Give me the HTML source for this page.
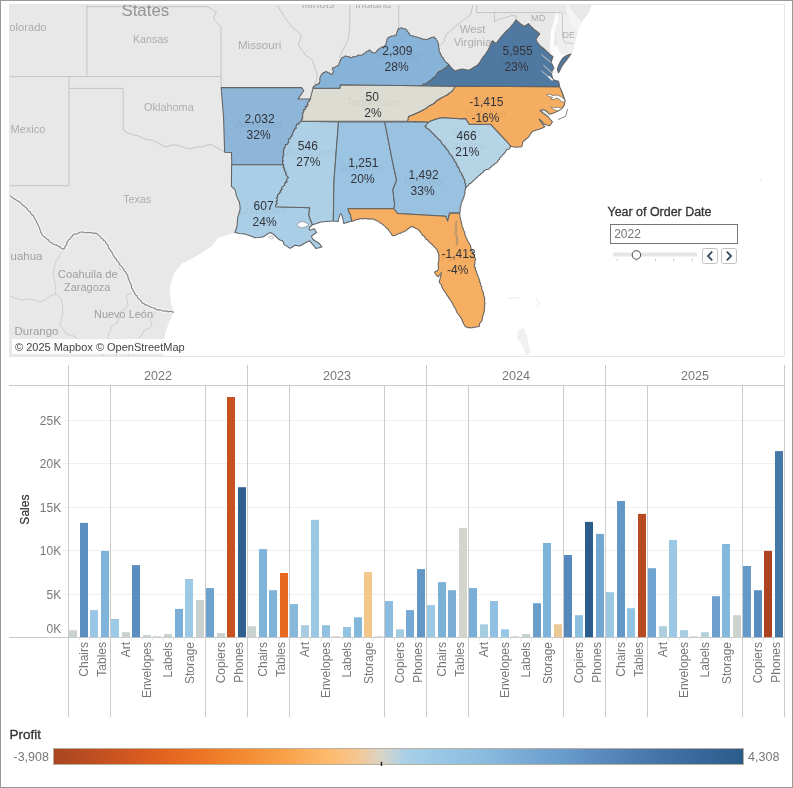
<!DOCTYPE html>
<html lang="en"><head><meta charset="utf-8"><title>Profit and Sales Dashboard</title>
<style>
html,body{margin:0;padding:0;background:#fff;}
body{width:793px;height:788px;position:relative;overflow:hidden;font-family:"Liberation Sans", sans-serif;}
#frame{position:absolute;left:0;top:0;width:793px;height:788px;box-sizing:border-box;border:1px solid #999;pointer-events:none;}
svg{position:absolute;left:0;top:0;}
svg text{font-family:"Liberation Sans", sans-serif;}
.bl{fill:#adadad;font-size:11px;text-anchor:middle;}
.dl{fill:#33333b;font-size:12px;text-anchor:middle;}
.ax{fill:#777;font-size:12px;}
.t{position:absolute;white-space:nowrap;}
</style></head><body>
<svg width="793" height="788" viewBox="0 0 793 788">
<defs><clipPath id="mapclip"><rect x="10" y="5" width="774" height="351"/></clipPath>
<filter id="soft" x="-20%" y="-20%" width="140%" height="140%"><feGaussianBlur stdDeviation="0.7"/></filter>
<linearGradient id="lg" x1="0" x2="1" y1="0" y2="0">
<stop offset="0" stop-color="#a84521"/>
<stop offset="0.054" stop-color="#bd4e21"/>
<stop offset="0.112" stop-color="#d35820"/>
<stop offset="0.162" stop-color="#e3641f"/>
<stop offset="0.213" stop-color="#ec7425"/>
<stop offset="0.264" stop-color="#f2872f"/>
<stop offset="0.329" stop-color="#f89e45"/>
<stop offset="0.4" stop-color="#fdbb6d"/>
<stop offset="0.438" stop-color="#f5c58e"/>
<stop offset="0.4757" stop-color="#d9d5c9"/>
<stop offset="0.51" stop-color="#a9d0e6"/>
<stop offset="0.546" stop-color="#9ccae6"/>
<stop offset="0.619" stop-color="#8bbce0"/>
<stop offset="0.69" stop-color="#75a8d3"/>
<stop offset="0.738" stop-color="#689ccb"/>
<stop offset="0.807" stop-color="#5587b9"/>
<stop offset="0.88" stop-color="#4274a6"/>
<stop offset="0.952" stop-color="#336596"/>
<stop offset="1" stop-color="#2b5c8a"/>
</linearGradient></defs>
<g clip-path="url(#mapclip)">
<rect x="9" y="4" width="776" height="353" fill="#fff"/>
<polygon points="9.0,4.0 592.0,4.0 589.0,12.0 585.0,18.0 581.5,22.5 579.3,27.0 577.2,33.0 576.0,38.0 575.1,42.9 572.6,51.7 570.9,53.9 566.2,55.8 560.0,52.0 556.0,45.0 548.0,60.0 548.0,80.0 555.0,90.0 558.0,100.0 545.0,118.0 530.0,130.0 515.0,142.0 505.0,145.0 495.0,158.0 480.0,170.0 468.0,182.0 462.0,192.0 458.0,205.0 456.0,215.0 460.0,235.0 470.0,260.0 480.0,295.0 478.0,320.0 468.0,322.0 455.0,300.0 445.0,280.0 440.0,262.0 438.0,250.0 425.0,233.0 410.0,225.0 392.0,230.0 380.0,220.0 360.0,217.0 352.0,216.0 345.0,215.0 336.0,215.0 320.0,218.0 311.0,215.0 306.0,232.0 290.0,240.0 272.0,230.0 255.0,231.0 240.0,230.0 238.0,229.0 235.0,232.8 229.0,234.5 217.9,238.1 211.9,245.7 203.0,252.0 193.7,257.8 181.6,263.8 174.0,272.9 169.5,288.0 171.0,303.2 174.0,312.3 169.5,321.3 165.0,333.4 163.4,351.6 163.4,357.0 9.0,357.0" fill="#e8e8e8"/>
<polygon points="565.5,4 568.5,4 571.5,10 576,16 581.5,22.5 579.3,27 577.2,33 573,27 569,19 566.5,11" fill="#f4f4f4" filter="url(#soft)"/>
<circle cx="761.3" cy="180" r="0.8" fill="#dcdcdc"/>
<polygon points="558,12.6 563,12.6 568,18 573,27 576.5,34 575,43 571,53.5 566,55.8 560,53.5 557,46 555.5,30 557,20" fill="#efefef" filter="url(#soft)"/>
<polygon points="555.5,12.0 557.5,12.0 558.2,19.0 555.0,30.0 554.0,44.0 557.0,52.0 560.0,54.0 566.0,55.5 560.5,61.5 557.7,68.1 558.6,72.8 561.0,78.0 562.0,86.6 559.6,86.6 558.6,81.3 552.9,79.4 551.1,72.8 553.9,68.1 551.1,62.4 553.0,56.7 550.5,50.0 550.0,44.0 551.0,30.0 554.5,20.0" fill="#fcfcfc" filter="url(#soft)"/>
<polygon points="518,330 524,328 528,340 530,352 527,356 522,345 517,338" fill="#f0f0f0"/>
<path d="M508,298.5 L520,297.5 M536,298 L539,303 L537,308" stroke="#ebebeb" stroke-width="1" fill="none"/>
<polyline points="9.0,76.6 221.0,76.6" fill="none" stroke="#b9b9b9" stroke-width="0.75"/>
<polyline points="86.9,4.0 86.9,76.6" fill="none" stroke="#b9b9b9" stroke-width="0.75"/>
<polyline points="86.9,6.7 207.3,6.7 216.4,12.1 213.4,18.2 221.0,27.2 221.2,88.0" fill="none" stroke="#b9b9b9" stroke-width="0.75"/>
<polyline points="69.0,76.6 69.0,185.7 9.0,185.7" fill="none" stroke="#b9b9b9" stroke-width="0.75"/>
<polyline points="69.0,88.4 123.2,88.4 123.2,130.1 128.0,133.0 133.2,134.7 139.0,136.0 145.3,139.2 151.0,140.0 157.4,142.3 162.0,145.5 166.5,146.8 172.0,145.0 178.6,145.3 185.0,148.0 190.7,148.9 197.0,147.0 202.8,146.8 207.0,145.0 211.9,144.7 218.0,148.5 224.0,151.3" fill="none" stroke="#b9b9b9" stroke-width="0.75"/>
<polyline points="313.2,87.2 316.0,82.0 317.3,75.1 315.0,68.0 312.2,60.0 306.0,55.5 298.4,45.4 301.4,34.8 292.3,27.2 283.2,15.1 277.2,4.5" fill="none" stroke="#b9b9b9" stroke-width="0.75"/>
<polyline points="349.8,4.5 349.8,27.2 348.3,39.3 342.3,51.5 339.2,57.5" fill="none" stroke="#b9b9b9" stroke-width="0.75"/>
<polyline points="398.8,4.5 398.8,28.8" fill="none" stroke="#b9b9b9" stroke-width="0.75"/>
<polyline points="473.0,5.0 470.4,15.1 461.6,21.4 452.8,29.0 446.5,34.0 444.0,41.6 440.5,45.4" fill="none" stroke="#b9b9b9" stroke-width="0.75"/>
<polyline points="476.7,4.0 476.7,12.6 561.2,12.6" fill="none" stroke="#b9b9b9" stroke-width="0.75"/>
<polyline points="494.4,12.6 494.4,21.4 500.0,19.0 506.0,17.5 512.0,15.5 516.0,16.0 516.1,19.9" fill="none" stroke="#b9b9b9" stroke-width="0.75"/>
<polyline points="562.5,12.6 562.5,37.8 565.0,42.9 573.8,43.4" fill="none" stroke="#b9b9b9" stroke-width="0.75"/>
<polyline points="63.6,249.3 63.1,251.0 62.0,252.4 60.8,253.7 59.6,254.9 59.1,256.7 58.2,258.1 57.2,259.5 56.0,260.8 55.3,262.5 55.5,264.3 54.5,265.9 54.1,267.7 54.2,269.5 53.4,271.2 53.0,272.9 53.3,274.5 53.7,276.1 53.4,277.8 54.5,279.2 54.9,280.7 54.3,282.5 55.0,284.0 55.3,285.7 55.6,287.3 55.7,289.0 55.8,290.7 55.4,292.5 56.0,294.1 57.4,295.1 58.6,296.3 59.5,297.7 60.8,298.9 62.0,300.0 61.7,301.8 62.0,303.5 62.6,305.1 62.9,306.8 62.4,308.6 62.4,310.3 63.0,312.0 63.1,313.7 62.0,315.2 61.5,316.8 61.4,318.5 61.4,320.2 60.5,321.7 60.1,323.3 60.0,325.0 61.1,326.1 61.6,327.6 62.8,328.7 63.8,329.9 64.4,331.3 65.3,332.6 66.0,334.0 67.5,334.2 69.0,334.8 70.4,335.3 71.9,335.8 73.4,336.1 75.0,336.0 75.6,337.7 76.8,339.0 78.2,340.1 79.3,341.4 80.0,343.0 81.7,342.7 83.4,342.2 85.2,341.9 86.8,340.9 88.5,340.6 90.4,340.8 92.0,340.0 93.1,341.2 94.2,342.4 95.7,343.1 96.6,344.5 97.4,346.0 98.8,347.0 100.0,348.0 100.2,349.7 101.6,350.9 102.0,352.5 102.4,354.1 103.4,355.5 104.0,357.0" fill="none" stroke="#c2c2c2" stroke-width="0.7"/>
<polyline points="9.0,296.0 10.7,296.1 12.3,296.8 13.8,297.6 15.2,298.5 17.0,298.5 18.6,299.1 20.0,300.0 21.6,299.6 23.4,299.9 25.0,299.1 26.7,299.6 28.4,299.3 30.0,299.0 31.8,299.1 33.4,299.9 35.2,300.2 36.9,300.6 38.5,301.6 40.4,301.2 42.0,302.0 43.0,300.6 44.9,300.4 45.9,298.9 47.1,297.8 48.6,296.9 50.0,296.0 51.5,295.4 53.1,295.5 54.4,294.3 56.0,294.1" fill="none" stroke="#c2c2c2" stroke-width="0.7"/>
<polyline points="133.2,291.1 132.0,292.5 130.5,293.4 128.9,294.1 127.3,294.9 126.0,296.0 126.7,297.6 127.0,299.3 127.3,300.9 127.1,302.7 128.0,304.3 128.0,306.0 126.5,306.8 125.2,307.9 124.2,309.3 122.7,310.0 121.4,311.0 120.0,312.0 119.8,313.7 118.8,315.2 119.4,317.1 119.1,318.8 117.9,320.2 118.0,322.0 116.8,322.9 115.8,323.9 114.5,324.5 113.3,325.3 112.0,326.0 110.9,327.5 110.9,329.4 110.3,331.1 109.2,332.6 108.6,334.3 108.0,336.0 107.9,337.6 108.3,339.1 109.1,340.5 109.6,341.9 109.3,343.6 110.0,345.0 111.4,346.1 113.4,345.8 114.7,347.0 116.3,347.7 118.0,348.0 117.5,349.5 117.6,351.1 116.7,352.4 116.4,353.9 116.6,355.6 116.0,357.0" fill="none" stroke="#c2c2c2" stroke-width="0.7"/>
<polyline points="115.0,257.8 116.5,258.2 117.6,259.2 118.7,260.2 119.7,261.3 121.0,262.0 120.8,263.6 120.4,265.1 119.8,266.6 119.0,268.0 120.1,269.2 121.7,269.7 122.6,271.2 124.0,272.0 124.9,272.9 126.3,273.3 127.1,274.4" fill="none" stroke="#c2c2c2" stroke-width="0.7"/>
<polyline points="157.4,309.8 156.7,311.3 155.6,312.4 154.3,313.4 153.0,314.4 152.4,315.9 151.3,317.1 150.0,318.0 150.7,319.5 150.6,321.3 151.5,322.7 151.4,324.5 152.0,326.0 150.5,326.7 149.4,327.9 147.8,328.4 146.4,329.2 145.0,330.0 144.1,331.5 142.6,332.6 142.3,334.5 141.4,336.0 139.6,336.9 139.1,338.6 138.0,340.0 136.8,341.1 135.4,341.8 134.1,342.6 132.4,342.9 131.5,344.4 130.0,345.0 130.0,346.8 129.3,348.4 129.1,350.1 128.4,351.8 128.2,353.5 128.4,355.3 128.0,357.0" fill="none" stroke="#c2c2c2" stroke-width="0.7"/>
<polyline points="10.0,195.7 11.3,196.5 12.5,197.4 13.5,198.6 15.0,199.1 16.2,199.9 17.4,200.8 18.9,201.3 19.9,202.5 21.2,203.3 22.2,204.5 23.2,205.7 24.8,206.3 25.7,207.6 27.0,208.5 27.6,210.1 28.8,211.1 30.3,211.8 30.8,213.5 31.9,214.6 33.3,215.4 33.8,216.9 34.5,218.3 35.6,219.5 36.3,220.8 36.5,222.4 37.6,223.7 38.1,225.1 38.7,226.6 39.6,227.9 39.8,229.5 40.5,230.8 40.8,232.4 41.7,233.7 42.4,235.1 43.5,236.2 44.8,237.1 45.9,238.2 47.2,239.0 48.5,239.9 49.3,241.4 50.5,242.4 52.0,243.0 53.1,244.0 54.5,244.6 56.0,244.9 57.3,245.6 58.5,246.3 59.9,246.8 60.9,248.1 62.4,248.5 63.6,249.3 64.6,248.1 65.0,246.5 66.2,245.4 66.8,243.9 66.8,242.2 68.0,241.0 68.7,239.6 70.2,238.9 70.7,237.4 72.1,236.6 72.6,235.1 73.9,234.6 75.1,233.8 76.5,233.9 77.9,233.6 79.0,232.7 80.3,232.1 81.7,232.0 83.2,232.0 84.7,232.8 86.2,232.7 87.8,232.3 89.3,232.6 90.9,232.6 92.4,232.7 93.8,233.6 95.4,233.1 96.9,233.6 98.0,234.8 99.2,235.8 100.5,236.8 101.2,238.3 102.8,239.0 103.5,240.4 105.0,241.2 105.9,242.6 106.7,243.8 107.7,245.0 108.4,246.3 108.5,247.9 109.4,249.1 110.6,250.1 110.9,251.7 112.2,252.6 112.8,253.9 113.2,255.4 114.1,256.6 115.0,257.8 116.2,258.8 116.5,260.6 118.0,261.5 118.9,262.8 119.4,264.4 120.7,265.4 121.7,266.6 122.8,267.8 123.7,269.1 124.2,270.6 125.5,271.7 126.1,273.2 127.1,274.4 127.7,275.8 128.2,277.2 128.2,278.7 129.2,280.0 129.6,281.4 129.8,282.9 131.0,284.0 131.5,285.4 131.3,287.1 131.9,288.4 132.9,289.6 133.2,291.1 134.4,292.1 134.8,293.7 135.6,295.0 137.1,295.8 137.4,297.4 138.3,298.6 139.5,299.6 140.5,300.7 141.7,301.8 142.3,303.2 143.9,303.4 144.9,304.8 146.5,304.8 147.7,305.8 149.3,306.0 150.4,307.1 151.9,307.5 153.4,307.8 154.8,308.3 155.9,309.4 157.4,309.8 159.0,309.6 160.5,310.0 161.9,310.5 163.4,311.1 164.9,311.1 166.5,310.9 167.9,311.8 169.5,311.3 171.1,311.4 172.5,311.8 174.0,312.3" fill="none" stroke="#f6f6f6" stroke-width="3.6" stroke-linejoin="round"/>
<polyline points="10.0,195.7 11.3,196.5 12.5,197.4 13.5,198.6 15.0,199.1 16.2,199.9 17.4,200.8 18.9,201.3 19.9,202.5 21.2,203.3 22.2,204.5 23.2,205.7 24.8,206.3 25.7,207.6 27.0,208.5 27.6,210.1 28.8,211.1 30.3,211.8 30.8,213.5 31.9,214.6 33.3,215.4 33.8,216.9 34.5,218.3 35.6,219.5 36.3,220.8 36.5,222.4 37.6,223.7 38.1,225.1 38.7,226.6 39.6,227.9 39.8,229.5 40.5,230.8 40.8,232.4 41.7,233.7 42.4,235.1 43.5,236.2 44.8,237.1 45.9,238.2 47.2,239.0 48.5,239.9 49.3,241.4 50.5,242.4 52.0,243.0 53.1,244.0 54.5,244.6 56.0,244.9 57.3,245.6 58.5,246.3 59.9,246.8 60.9,248.1 62.4,248.5 63.6,249.3 64.6,248.1 65.0,246.5 66.2,245.4 66.8,243.9 66.8,242.2 68.0,241.0 68.7,239.6 70.2,238.9 70.7,237.4 72.1,236.6 72.6,235.1 73.9,234.6 75.1,233.8 76.5,233.9 77.9,233.6 79.0,232.7 80.3,232.1 81.7,232.0 83.2,232.0 84.7,232.8 86.2,232.7 87.8,232.3 89.3,232.6 90.9,232.6 92.4,232.7 93.8,233.6 95.4,233.1 96.9,233.6 98.0,234.8 99.2,235.8 100.5,236.8 101.2,238.3 102.8,239.0 103.5,240.4 105.0,241.2 105.9,242.6 106.7,243.8 107.7,245.0 108.4,246.3 108.5,247.9 109.4,249.1 110.6,250.1 110.9,251.7 112.2,252.6 112.8,253.9 113.2,255.4 114.1,256.6 115.0,257.8 116.2,258.8 116.5,260.6 118.0,261.5 118.9,262.8 119.4,264.4 120.7,265.4 121.7,266.6 122.8,267.8 123.7,269.1 124.2,270.6 125.5,271.7 126.1,273.2 127.1,274.4 127.7,275.8 128.2,277.2 128.2,278.7 129.2,280.0 129.6,281.4 129.8,282.9 131.0,284.0 131.5,285.4 131.3,287.1 131.9,288.4 132.9,289.6 133.2,291.1 134.4,292.1 134.8,293.7 135.6,295.0 137.1,295.8 137.4,297.4 138.3,298.6 139.5,299.6 140.5,300.7 141.7,301.8 142.3,303.2 143.9,303.4 144.9,304.8 146.5,304.8 147.7,305.8 149.3,306.0 150.4,307.1 151.9,307.5 153.4,307.8 154.8,308.3 155.9,309.4 157.4,309.8 159.0,309.6 160.5,310.0 161.9,310.5 163.4,311.1 164.9,311.1 166.5,310.9 167.9,311.8 169.5,311.3 171.1,311.4 172.5,311.8 174.0,312.3" fill="none" stroke="#8e8e8e" stroke-width="1.25" stroke-linejoin="round"/>
<text x="145.3" y="16" textLength="47.8" lengthAdjust="spacingAndGlyphs" style="fill:#949494;font-size:16.5px;text-anchor:middle">States</text>
<text x="9.3" y="31.4" textLength="37.3" lengthAdjust="spacingAndGlyphs" style="fill:#adadad;font-size:11px;text-anchor:start">olorado</text>
<text x="150.7" y="43.2" textLength="35.4" lengthAdjust="spacingAndGlyphs" style="fill:#adadad;font-size:11px;text-anchor:middle">Kansas</text>
<text x="259.6" y="48.6" textLength="43.3" lengthAdjust="spacingAndGlyphs" style="fill:#adadad;font-size:11px;text-anchor:middle">Missouri</text>
<text x="318" y="7.7" textLength="33" lengthAdjust="spacingAndGlyphs" style="fill:#adadad;font-size:11.5px;text-anchor:middle">Illinois</text>
<text x="373.1" y="7.7" textLength="36.2" lengthAdjust="spacingAndGlyphs" style="fill:#adadad;font-size:11.5px;text-anchor:middle">Indiana</text>
<text x="538.2" y="20.6" textLength="14.3" lengthAdjust="spacingAndGlyphs" style="fill:#adadad;font-size:9.5px;text-anchor:middle">MD</text>
<text x="568.7" y="38.4" textLength="12.5" lengthAdjust="spacingAndGlyphs" style="fill:#adadad;font-size:9.5px;text-anchor:middle">DE</text>
<text x="472.6" y="33.2" textLength="25.7" lengthAdjust="spacingAndGlyphs" style="fill:#adadad;font-size:11px;text-anchor:middle">West</text>
<text x="472.6" y="46.2" textLength="37.8" lengthAdjust="spacingAndGlyphs" style="fill:#adadad;font-size:11px;text-anchor:middle">Virginia</text>
<text x="168.9" y="111.2" textLength="49.6" lengthAdjust="spacingAndGlyphs" style="fill:#adadad;font-size:11px;text-anchor:middle">Oklahoma</text>
<text x="10.6" y="133.3" textLength="34.8" lengthAdjust="spacingAndGlyphs" style="fill:#adadad;font-size:11px;text-anchor:start">Mexico</text>
<text x="137.1" y="203.2" textLength="27.8" lengthAdjust="spacingAndGlyphs" style="fill:#adadad;font-size:11px;text-anchor:middle">Texas</text>
<text x="10.6" y="259.9" textLength="31.8" lengthAdjust="spacingAndGlyphs" style="fill:#a0a0a0;font-size:11px;text-anchor:start">uahua</text>
<text x="87.8" y="278.2" textLength="59.9" lengthAdjust="spacingAndGlyphs" style="fill:#a0a0a0;font-size:11px;text-anchor:middle">Coahuila de</text>
<text x="87.2" y="291" textLength="46.3" lengthAdjust="spacingAndGlyphs" style="fill:#a0a0a0;font-size:11px;text-anchor:middle">Zaragoza</text>
<text x="123.5" y="318.1" textLength="59" lengthAdjust="spacingAndGlyphs" style="fill:#a0a0a0;font-size:11px;text-anchor:middle">Nuevo León</text>
<text x="14.5" y="334.8" textLength="43.9" lengthAdjust="spacingAndGlyphs" style="fill:#a0a0a0;font-size:11px;text-anchor:start">Durango</text>
<polygon points="221.2,87.6 301.6,87.6 303.7,90.8 298.1,98.9 310.2,99.1 310.2,100.1 309.3,100.5 309.1,101.4 308.5,102.0 307.9,102.7 307.5,103.5 308.1,104.8 306.9,105.2 307.3,106.5 305.4,106.5 306.1,107.9 305.2,108.5 305.3,109.6 303.5,109.7 304.0,111.0 303.6,111.9 303.2,112.8 302.3,113.7 302.9,114.9 302.6,116.0 302.2,116.9 303.0,117.9 302.0,118.7 302.1,119.6 301.3,120.3 301.9,121.2 301.2,121.6 300.4,121.7 300.0,122.5 299.0,122.7 298.8,124.2 297.5,124.0 296.6,124.4 296.5,125.4 296.0,126.2 296.1,127.3 296.2,128.5 295.0,129.0 294.0,129.4 294.3,130.5 293.5,131.1 293.5,132.0 292.5,132.8 292.6,133.8 292.7,134.9 291.5,135.2 291.8,136.6 290.6,136.9 290.5,138.0 290.1,138.8 288.8,139.0 288.4,139.8 288.5,141.0 289.0,142.0 288.0,142.4 288.0,143.7 287.2,144.5 285.4,144.6 285.5,146.0 285.2,146.8 284.5,147.4 284.7,148.4 284.0,149.0 283.7,150.0 283.7,151.0 283.2,151.9 283.7,152.9 283.4,154.0 283.8,155.0 283.4,156.0 282.5,156.8 283.0,158.0 282.8,159.1 282.5,160.1 283.5,161.0 282.7,161.9 282.4,162.8 282.9,163.8 283.2,164.7 231.8,164.7 231.5,152.6 224.6,152.2 223.6,117.8" fill="#8db6d9" stroke="#626262" stroke-width="1.05" stroke-linejoin="round"/>
<polygon points="231.6,164.7 283.2,164.7 284.1,165.3 283.2,166.6 283.3,167.5 284.5,168.0 284.0,169.2 284.9,170.0 284.8,171.1 285.5,172.0 286.4,172.8 285.6,174.2 286.5,175.1 287.0,176.0 287.7,176.6 288.5,177.3 288.0,178.4 287.0,179.0 286.4,179.8 287.0,181.0 287.0,182.3 285.3,182.1 285.3,183.4 284.5,184.0 284.7,185.1 284.0,185.8 283.2,186.4 282.2,187.0 281.5,187.8 282.3,189.6 281.0,190.0 280.4,190.7 281.0,192.0 279.4,192.2 279.7,193.3 279.0,194.0 277.9,194.5 277.4,195.2 277.9,196.5 277.5,197.3 276.3,198.0 277.4,199.2 277.6,200.3 276.5,201.0 276.2,201.9 277.2,203.0 276.7,203.9 276.1,204.8 275.6,205.7 275.7,206.7 309.7,207.7 308.8,215.3 310.5,220.0 312.5,224.7 310.5,226.5 309.0,227.9 309.7,230.2 312.0,229.6 314.3,228.7 315.5,230.8 316.6,232.5 313.5,234.5 311.3,236.3 312.8,239.3 316.0,241.5 319.6,243.8 321.9,246.9 319.0,247.8 315.8,248.4 313.0,244.8 309.7,240.8 306.5,242.2 303.7,243.8 301.5,245.2 299.2,246.1 296.8,245.4 294.6,245.3 292.5,247.0 290.1,248.4 287.0,246.4 284.0,244.6 283.5,242.5 282.5,240.8 280.5,240.3 278.7,239.3 276.8,237.3 274.9,235.5 272.5,233.8 270.4,232.5 268.8,233.2 267.4,234.0 265.0,235.8 262.8,237.0 259.0,237.6 255.3,237.8 250.0,235.8 244.7,234.0 239.5,233.4 234.8,232.5 236.2,229.0 237.1,225.7 237.4,221.0 237.9,216.6 239.3,212.5 240.1,209.0 239.9,205.5 239.4,202.2 237.7,198.6 236.3,195.4 235.7,192.2 234.8,189.3 231.4,186.3" fill="#a9cee6" stroke="#626262" stroke-width="1.05" stroke-linejoin="round"/>
<polygon points="301.9,121.2 338.5,122.0 336.3,150.0 334.0,180.0 333.3,221.0 327.0,221.5 321.0,221.9 316.5,223.5 312.5,224.7 310.5,220.0 308.8,215.3 309.7,207.7 275.7,206.7 275.6,205.7 276.1,204.8 276.7,203.9 277.2,203.0 276.2,201.9 276.5,201.0 277.6,200.3 277.4,199.2 276.3,198.0 277.5,197.3 277.9,196.5 277.4,195.2 277.9,194.5 279.0,194.0 279.7,193.3 279.4,192.2 281.0,192.0 280.4,190.7 281.0,190.0 282.3,189.6 281.5,187.8 282.2,187.0 283.2,186.4 284.0,185.8 284.7,185.1 284.5,184.0 285.3,183.4 285.3,182.1 287.0,182.3 287.0,181.0 286.4,179.8 287.0,179.0 288.0,178.4 288.5,177.3 287.7,176.6 287.0,176.0 286.5,175.1 285.6,174.2 286.4,172.8 285.5,172.0 284.8,171.1 284.9,170.0 284.0,169.2 284.5,168.0 283.3,167.5 283.2,166.6 284.1,165.3 283.2,164.7 282.9,163.8 282.4,162.8 282.7,161.9 283.5,161.0 282.5,160.1 282.8,159.1 283.0,158.0 282.5,156.8 283.4,156.0 283.8,155.0 283.4,154.0 283.7,152.9 283.2,151.9 283.7,151.0 283.7,150.0 284.0,149.0 284.7,148.4 284.5,147.4 285.2,146.8 285.5,146.0 285.4,144.6 287.2,144.5 288.0,143.7 288.0,142.4 289.0,142.0 288.5,141.0 288.4,139.8 288.8,139.0 290.1,138.8 290.5,138.0 290.6,136.9 291.8,136.6 291.5,135.2 292.7,134.9 292.6,133.8 292.5,132.8 293.5,132.0 293.5,131.1 294.3,130.5 294.0,129.4 295.0,129.0 296.2,128.5 296.1,127.3 296.0,126.2 296.5,125.4 296.6,124.4 297.5,124.0 298.8,124.2 299.0,122.7 300.0,122.5 300.4,121.7 301.2,121.6" fill="#add0e6" stroke="#626262" stroke-width="1.05" stroke-linejoin="round"/>
<polygon points="338.5,122.0 384.7,122.0 392.8,163.2 396.6,180.2 392.8,189.7 394.7,204.8 393.8,208.8 348.0,208.8 349.0,212.0 350.6,215.4 351.2,218.0 351.8,221.1 347.0,222.5 343.8,223.5 342.6,218.0 341.7,214.6 340.9,213.9 340.1,214.4 339.1,217.5 338.2,221.4 333.3,221.0 334.0,180.0 336.3,150.0" fill="#9ac4e1" stroke="#626262" stroke-width="1.05" stroke-linejoin="round"/>
<polygon points="384.7,122.0 428.8,122.0 425.0,126.5 426.1,126.8 426.4,127.9 427.4,128.2 428.0,129.0 429.2,129.5 429.9,130.6 430.9,131.3 431.8,132.2 432.5,133.2 433.6,133.8 434.5,134.6 435.0,135.8 436.0,136.5 436.8,137.3 437.7,138.0 438.3,139.0 439.2,139.8 440.2,140.4 440.9,141.3 441.4,142.4 442.0,143.5 442.7,144.4 443.9,145.1 444.4,146.2 445.4,147.0 446.0,148.0 446.8,148.9 447.2,150.2 448.4,150.8 448.8,152.1 449.3,153.2 450.1,154.1 451.1,154.9 451.6,156.1 452.7,156.9 452.7,158.4 454.1,159.1 454.3,160.4 455.0,161.5 455.6,162.5 456.5,163.3 456.8,164.4 457.1,165.6 457.5,166.7 458.7,167.3 459.0,168.5 459.5,169.6 459.8,170.9 460.4,172.0 461.3,172.9 462.0,174.0 462.1,175.4 463.1,176.4 463.2,177.7 464.0,178.8 464.7,179.9 465.0,181.2 464.8,182.5 465.6,183.7 465.4,185.0 465.8,186.3 466.2,187.5 465.5,188.5 465.2,189.6 464.9,190.8 465.0,192.0 465.1,193.4 464.3,194.6 464.2,196.0 463.8,197.3 463.2,198.5 462.9,199.9 462.0,201.0 461.9,202.3 461.3,203.6 460.9,204.8 460.9,206.3 460.3,207.6 460.0,209.0 460.3,210.4 460.1,211.8 459.5,213.1 449.6,213.1 447.7,221.1 445.8,216.3 397.5,213.5 393.8,208.8 394.7,204.8 392.8,189.7 396.6,180.2 392.8,163.2" fill="#98c2e0" stroke="#626262" stroke-width="1.05" stroke-linejoin="round"/>
<polygon points="349.0,212.0 348.0,208.8 393.8,208.8 397.5,213.5 445.8,216.3 447.7,221.1 449.6,213.1 459.5,213.1 460.1,214.5 459.8,216.1 460.1,217.6 460.5,219.0 460.9,220.4 461.4,221.7 461.3,223.2 461.9,224.5 462.0,225.9 462.7,227.2 463.1,228.6 463.5,230.0 464.2,231.4 464.8,232.8 465.0,234.3 465.3,235.8 465.9,237.3 467.0,238.5 467.1,240.2 468.0,241.5 468.9,242.8 469.7,244.2 470.5,245.6 470.9,247.2 471.0,248.6 471.7,249.8 472.0,251.1 472.7,252.3 473.3,253.5 474.1,254.6 474.3,255.9 474.6,257.2 475.4,258.3 475.5,259.7 474.8,261.0 475.0,262.5 474.9,264.0 474.3,265.3 474.5,266.7 475.5,267.9 475.2,269.4 476.1,270.6 476.5,272.0 476.9,273.4 477.6,274.8 477.9,276.2 478.7,277.5 478.9,279.0 479.8,280.3 479.5,281.9 480.5,283.1 480.5,284.7 481.2,286.0 481.9,287.2 481.7,288.8 482.2,290.1 482.7,291.4 483.4,292.6 483.4,293.9 483.8,295.2 483.9,296.5 484.7,297.7 484.6,299.0 484.7,300.4 484.4,301.8 485.1,303.1 484.5,304.5 484.9,305.9 484.3,307.4 484.5,309.0 484.4,310.5 484.0,312.0 483.7,313.3 483.4,314.6 482.6,315.8 482.7,317.2 482.3,318.5 482.1,320.0 481.5,321.3 480.4,322.5 479.6,323.7 479.5,325.2 478.9,326.6 477.4,326.8 476.0,327.0 474.5,327.3 473.3,327.2 472.1,327.9 470.9,327.8 469.4,327.6 468.0,327.7 466.7,327.1 465.3,326.6 464.7,325.2 463.7,324.0 463.0,322.6 462.5,321.2 461.9,319.8 461.5,318.4 460.3,317.5 459.8,316.1 459.0,315.0 458.1,314.0 457.3,313.0 456.6,312.0 456.2,310.7 455.8,309.3 455.1,308.0 454.1,306.9 453.5,305.5 452.9,304.2 452.1,302.9 451.6,301.6 450.5,300.5 450.0,299.0 448.7,298.1 448.2,296.5 447.0,295.5 446.5,294.0 445.4,292.9 444.8,291.4 443.7,290.3 443.1,289.1 442.5,287.9 441.8,286.8 441.5,285.5 441.2,284.3 440.1,283.5 439.4,282.5 439.2,281.2 439.8,280.1 440.1,278.9 440.2,277.7 440.5,276.5 441.1,275.2 440.7,273.7 441.4,272.4 440.9,273.4 440.3,274.2 439.5,275.0 438.8,275.9 438.0,276.7 436.8,275.8 436.0,274.5 435.0,273.5 434.6,272.1 435.5,271.4 436.5,271.0 437.5,270.7 438.0,269.9 438.5,268.3 438.4,266.8 438.2,265.2 438.1,263.6 438.4,262.0 439.0,260.7 438.7,259.2 439.1,257.9 438.6,256.4 439.2,255.1 438.4,254.0 438.3,252.6 437.5,251.5 437.2,250.3 436.7,249.2 435.8,248.3 434.9,247.3 433.9,246.6 433.1,245.6 432.3,244.5 431.2,243.8 430.1,242.9 429.3,241.8 428.1,241.0 427.5,239.7 426.0,239.2 425.5,237.8 424.4,237.0 423.9,235.7 422.4,235.3 421.9,233.9 421.0,233.0 420.2,231.9 419.5,230.8 418.5,229.9 417.6,229.0 416.3,228.7 415.2,228.1 414.0,227.5 413.0,226.8 412.0,226.6 410.8,226.7 409.9,227.8 408.5,228.4 407.6,229.5 406.3,230.1 405.2,231.1 404.0,231.8 402.5,232.0 401.5,232.6 400.6,233.3 399.4,233.6 398.1,233.8 397.1,234.4 396.0,235.0 394.9,235.6 393.7,235.5 392.6,235.8 391.8,234.8 391.2,233.6 390.5,232.5 389.5,231.5 388.6,230.3 388.1,229.0 386.7,228.2 385.6,227.1 384.5,226.0 383.6,225.0 382.4,224.2 381.3,223.3 379.9,223.0 379.0,221.9 377.9,221.1 376.5,220.8 375.2,219.9 373.7,219.2 372.2,218.8 370.6,219.2 369.1,218.7 367.5,219.0 366.0,218.6 364.4,218.4 362.9,219.0 361.3,218.6 359.7,218.8 358.4,219.4 356.9,219.4 355.5,220.0 354.3,220.5 353.1,221.1 351.8,221.1 351.4,219.6 351.2,218.0 350.7,216.7 350.6,215.4 350.4,214.1 349.4,213.2" fill="#f6ae62" stroke="#626262" stroke-width="1.05" stroke-linejoin="round"/>
<polygon points="428.8,122.0 430.6,120.9 436.0,119.0 442.0,117.5 460.0,118.8 465.8,118.6 469.2,124.3 490.8,124.3 511.3,146.5 510.0,146.8 509.7,148.3 508.8,149.2 507.5,149.5 506.0,150.1 505.7,151.8 504.4,152.6 503.9,154.0 502.6,154.7 502.0,156.0 501.0,157.0 499.8,157.9 499.6,159.5 498.0,160.2 497.6,161.7 496.8,162.6 495.7,163.2 494.6,163.6 494.0,164.8 492.8,165.5 491.6,166.1 490.8,167.4 489.6,167.9 488.9,169.3 487.5,169.5 486.2,169.5 485.1,170.3 484.0,170.8 483.3,171.9 482.5,172.9 481.1,173.3 480.5,174.5 479.6,175.2 478.5,175.7 477.8,176.6 477.2,177.6 475.9,178.0 475.3,179.1 474.3,179.8 473.5,180.8 472.4,181.5 471.6,182.7 470.4,183.3 469.0,184.0 468.5,185.6 467.0,186.2 466.2,187.5 465.8,186.3 465.4,185.0 465.6,183.7 464.8,182.5 465.0,181.2 464.7,179.9 464.0,178.8 463.2,177.7 463.1,176.4 462.1,175.4 462.0,174.0 461.3,172.9 460.4,172.0 459.8,170.9 459.5,169.6 459.0,168.5 458.7,167.3 457.5,166.7 457.1,165.6 456.8,164.4 456.5,163.3 455.6,162.5 455.0,161.5 454.3,160.4 454.1,159.1 452.7,158.4 452.7,156.9 451.6,156.1 451.1,154.9 450.1,154.1 449.3,153.2 448.8,152.1 448.4,150.8 447.2,150.2 446.8,148.9 446.0,148.0 445.4,147.0 444.4,146.2 443.9,145.1 442.7,144.4 442.0,143.5 441.4,142.4 440.9,141.3 440.2,140.4 439.2,139.8 438.3,139.0 437.7,138.0 436.8,137.3 436.0,136.5 435.0,135.8 434.5,134.6 433.6,133.8 432.5,133.2 431.8,132.2 430.9,131.3 429.9,130.6 429.2,129.5 428.0,129.0 427.4,128.2 426.4,127.9 426.1,126.8 425.0,126.5" fill="#b5d4e6" stroke="#626262" stroke-width="1.05" stroke-linejoin="round"/>
<polygon points="455.3,86.3 559.6,86.6 561.0,90.0 563.0,95.0 564.8,101.0 564.5,105.0 561.9,108.6 558.0,111.0 555.2,112.4 552.0,113.5 549.5,114.3 547.5,112.0 545.7,110.5 543.0,109.8 540.0,110.5 543.5,113.5 547.6,116.2 550.0,119.0 552.4,121.9 551.0,124.0 549.5,125.7 546.5,125.0 543.8,123.8 541.5,121.0 539.0,119.0 541.5,123.0 544.8,126.7 541.5,128.5 538.1,129.5 535.0,130.5 532.4,131.4 530.5,134.0 528.6,137.1 525.5,139.5 522.9,141.9 522.3,144.5 521.9,146.7 516.0,147.3 511.3,146.5 490.8,124.3 469.2,124.3 465.8,118.6 460.0,118.8 442.0,117.5 436.0,119.0 430.6,120.9 428.8,122.0 407.6,121.2 407.6,120.0 408.0,118.9 407.8,117.7 408.5,116.6 409.8,116.3 410.8,115.2 412.0,114.6 413.5,114.8 414.6,114.0 416.1,113.6 417.1,112.4 418.9,112.6 420.0,111.5 421.4,111.2 422.3,110.2 423.7,110.0 424.6,108.8 425.9,108.4 427.1,107.9 427.8,106.6 429.0,106.0 429.9,105.0 431.4,105.0 432.5,104.5 433.5,103.6 434.7,103.2 435.2,102.0 436.1,101.2 437.0,100.5 438.1,100.1 439.0,99.3 440.2,99.0 441.0,98.0 442.0,97.0 443.3,96.7 444.4,95.8 445.8,95.6 447.0,95.0 448.4,94.6 448.9,93.1 450.1,92.4 451.1,91.4 452.4,91.0 452.9,89.7 453.6,88.5 454.5,87.4" fill="#f5ae61" stroke="#626262" stroke-width="1.05" stroke-linejoin="round"/>
<polygon points="313.8,88.2 339.9,88.2 340.2,84.8 421.0,85.7 455.3,86.3 452.4,91.0 447.0,95.0 441.0,98.0 437.0,100.5 433.5,103.6 429.0,106.0 425.9,108.4 420.0,111.5 414.6,114.0 408.5,116.6 407.6,121.2 301.9,121.2 301.3,120.3 302.1,119.6 302.0,118.7 303.0,117.9 302.2,116.9 302.6,116.0 302.9,114.9 302.3,113.7 303.2,112.8 303.6,111.9 304.0,111.0 303.5,109.7 305.3,109.6 305.2,108.5 306.1,107.9 305.4,106.5 307.3,106.5 306.9,105.2 308.1,104.8 307.5,103.5 307.9,102.7 308.5,102.0 309.1,101.4 309.3,100.5 310.2,100.1 310.2,99.1 311.7,93.3 313.2,87.4" fill="#dcdcd3" stroke="#626262" stroke-width="1.05" stroke-linejoin="round"/>
<polygon points="313.8,88.2 313.2,87.2 313.7,86.4 314.9,86.2 315.3,85.2 316.2,84.5 317.4,84.6 318.2,83.7 319.3,83.7 319.2,82.4 320.1,81.3 319.8,80.0 319.7,78.8 320.3,77.8 320.3,76.6 320.8,75.8 321.3,74.9 321.8,74.1 322.7,73.5 323.4,72.6 324.7,72.5 325.4,71.6 326.6,71.7 327.6,72.3 328.5,73.0 329.8,73.1 330.9,73.9 331.9,74.6 332.3,73.4 333.2,72.4 333.4,71.1 333.0,70.1 332.4,69.2 332.4,68.1 333.4,67.5 334.6,67.6 335.5,66.8 336.3,66.0 337.5,66.0 338.5,65.5 338.8,64.2 339.3,63.0 339.8,62.0 340.0,61.0 340.4,59.9 341.1,59.1 341.5,58.0 342.5,57.5 343.5,57.0 344.6,56.7 345.4,55.8 346.5,56.3 347.8,56.4 349.0,56.7 350.0,57.5 351.3,57.7 352.4,57.1 353.6,56.6 354.9,56.7 356.3,56.5 357.3,55.6 358.5,55.0 359.8,55.2 361.1,55.3 362.4,54.9 363.2,54.0 364.1,53.4 365.3,53.0 366.0,52.0 366.9,51.2 368.1,51.3 368.8,50.2 370.0,50.1 370.7,51.0 371.5,51.8 372.5,52.5 373.5,53.1 374.7,53.0 375.7,52.5 376.4,51.5 377.0,50.5 378.0,50.0 378.6,49.1 379.7,48.7 380.5,48.0 381.3,47.3 382.1,46.7 383.2,47.1 384.0,46.5 384.7,45.8 385.5,45.2 386.1,44.4 386.1,43.2 386.3,42.1 386.8,41.0 386.8,39.8 387.5,38.8 388.0,37.8 388.9,37.2 390.0,36.8 390.9,36.4 392.0,36.0 393.2,36.0 394.3,35.8 395.3,35.0 396.5,35.0 396.7,33.6 396.9,32.3 397.5,31.0 398.1,29.8 398.4,28.4 399.6,28.7 400.8,27.9 402.0,28.0 403.2,28.7 404.7,28.7 405.9,29.3 406.9,29.9 407.1,31.2 408.0,32.0 408.7,32.9 409.4,33.9 409.7,35.0 410.8,35.3 411.9,35.5 412.9,36.0 414.0,36.5 415.3,36.8 416.6,37.1 417.9,37.5 419.2,37.8 420.5,38.2 421.9,38.6 423.0,39.5 424.2,39.2 425.5,39.3 426.7,39.7 427.8,39.2 428.8,38.5 430.1,38.3 431.0,37.5 432.1,37.3 433.2,37.3 434.3,36.9 434.7,38.2 436.1,38.7 436.5,40.0 437.4,41.0 437.8,42.2 438.2,43.4 438.6,44.6 438.7,45.9 438.6,47.2 439.0,48.5 439.3,49.6 438.9,50.9 439.5,52.0 440.4,52.8 440.2,54.1 441.2,54.9 441.5,56.0 441.9,57.1 443.2,57.6 443.3,59.1 444.3,59.8 445.0,61.0 445.8,62.2 447.0,63.0 449.4,65.2 448.1,65.7 446.9,66.5 446.0,67.5 445.0,68.4 443.7,69.0 442.7,70.2 441.2,70.4 440.1,71.3 438.7,71.8 437.6,72.8 437.2,73.8 436.4,74.6 436.2,75.7 435.2,76.8 433.7,77.4 432.6,78.4 431.7,79.6 430.5,80.5 429.4,81.2 428.1,81.8 427.3,83.0 426.0,83.5 424.7,84.0 423.4,84.3 422.3,85.4 421.0,85.7 340.2,84.8 339.9,88.2" fill="#88b3d8" stroke="#626262" stroke-width="1.05" stroke-linejoin="round"/>
<polygon points="421.0,85.7 422.3,85.4 423.4,84.3 424.7,84.0 426.0,83.5 427.3,83.0 428.1,81.8 429.4,81.2 430.5,80.5 431.7,79.6 432.6,78.4 433.7,77.4 435.2,76.8 436.2,75.7 436.4,74.6 437.2,73.8 437.6,72.8 438.7,71.8 440.1,71.3 441.2,70.4 442.7,70.2 443.7,69.0 445.0,68.4 446.0,67.5 446.9,66.5 448.1,65.7 449.4,65.2 451.5,68.0 454.6,70.9 458.0,70.0 462.2,69.0 466.0,69.8 469.7,70.0 473.5,67.5 477.3,65.3 480.0,62.0 482.0,58.6 485.5,54.0 488.6,49.2 490.5,45.0 492.4,40.7 494.5,42.5 496.2,43.5 499.0,39.5 501.9,35.9 505.5,32.0 509.4,28.4 513.0,24.0 516.1,19.9 520.0,23.5 524.6,26.5 526.5,25.0 528.4,23.6 531.0,26.5 534.0,29.3 537.0,31.5 539.7,34.0 537.5,37.0 535.9,39.7 537.5,42.5 539.7,45.4 543.5,48.5 547.3,52.0 550.0,54.5 553.0,56.7 552.0,59.5 551.1,62.4 552.5,65.0 553.9,68.1 552.5,70.5 551.1,72.8 552.0,76.0 552.9,79.4 555.5,80.5 558.6,81.3 559.2,84.0 559.6,86.6 455.3,86.3" fill="#5079a2" stroke="#626262" stroke-width="1.05" stroke-linejoin="round"/>
<polygon points="570.9,53.9 568.5,57.5 566.2,60.5 562.4,65.3 560.5,69.0 558.6,72.8 557.5,70.0 557.7,68.1 558.8,65.0 560.5,61.5 563.0,58.0 566.2,55.8" fill="#5079a2" stroke="#626262" stroke-width="1.05" stroke-linejoin="round"/>
<path d="M296.9,224.9 L299,222.6 L302.2,221.4 L305.5,222.4 L309,224.7 L306,226.8 L302.2,227.9 L299,227 Z" fill="#fff" stroke="#777" stroke-width="0.6" stroke-linejoin="round"/>
<path d="M268.6,236.6 L271,236 L273.8,237.6 L272.6,239 L270,238.4 Z" fill="#fff" stroke="#888" stroke-width="0.5" stroke-linejoin="round"/>
<path d="M564.2,99.2 L561,96.6 L557,95 L553,95.6 L549.5,94.2 L546.5,94.6 L548.5,96.6 L552.5,97.2 L551.2,99.4 L554,99.6 L556.5,98 L559.5,99.4 L561.5,101.8 L564.6,102" fill="#fff" stroke="#666" stroke-width="0.7" stroke-linejoin="round"/>
<path d="M561.9,108.6 L558,107.2 L554,107.8 L550.5,107 L553.5,109.6 L557.5,110.6" fill="#fff" stroke="#666" stroke-width="0.6" stroke-linejoin="round"/>
<path d="M561,89.5 L563.2,95 L565.6,101.5 M567.6,109 L565.7,116.2 L558.1,119.6" fill="none" stroke="#666" stroke-width="0.8"/>
<path d="M541,54.3 L551.4,62.9 M542.9,64.8 L552.4,73.3 M541,70.5 L552.4,80" fill="none" stroke="#6d7f93" stroke-width="1.5"/>
<path d="M541.6,54.8 L551.4,62.9 M543.5,65.3 L552.4,73.3 M541.6,71 L552.6,80.2" fill="none" stroke="#eef1f4" stroke-width="0.6"/>
<path d="M548.5,76.2 L552.6,80.2" fill="none" stroke="#fff" stroke-width="1.6"/>
<path d="M456.6,220.6 L455.2,224 L455.6,229 L454.8,233 L456.6,238 L456,244.6 L457.4,244.6 L457.8,238 L456.2,233 L456.9,229 L456.4,224 L457.4,220.8" fill="none" stroke="#7a7a7a" stroke-width="0.5"/>
<text class="bl" x="259" y="127.5" style="fill:#000;fill-opacity:0.05">Arkansas</text>
<text class="bl" x="373" y="105.5" style="fill:#000;fill-opacity:0.05">Tennessee</text>
<text class="bl" x="309" y="156" style="fill:#000;fill-opacity:0.05">Mississippi</text>
<text class="bl" x="361.5" y="171.3" style="fill:#000;fill-opacity:0.05">Alabama</text>
<text class="bl" x="423.5" y="184.5" style="fill:#000;fill-opacity:0.05">Georgia</text>
<text class="bl" x="399" y="58.8" style="fill:#000;fill-opacity:0.05">Kentucky</text>
<text class="bl" x="517" y="61" style="fill:#000;fill-opacity:0.05">Virginia</text>
<text class="bl" x="263" y="214" style="fill:#000;fill-opacity:0.05">Louisiana</text>
<text class="bl" x="458" y="262" style="fill:#000;fill-opacity:0.05">Florida</text>
<text class="bl" x="487" y="104" style="fill:#000;fill-opacity:0.05">North</text>
<text class="bl" x="486" y="117" style="fill:#000;fill-opacity:0.05">Carolina</text>
<text class="bl" x="466" y="136" style="fill:#000;fill-opacity:0.05">South</text>
<text class="bl" x="465" y="149" style="fill:#000;fill-opacity:0.05">Carolina</text>
<text class="dl" x="259.6" y="122.9">2,032</text>
<text class="dl" x="258.6" y="139.2">32%</text>
<text class="dl" x="307.8" y="150.3">546</text>
<text class="dl" x="308.3" y="166.1">27%</text>
<text class="dl" x="263.6" y="210.3">607</text>
<text class="dl" x="264.6" y="226.2">24%</text>
<text class="dl" x="363.3" y="167.3">1,251</text>
<text class="dl" x="362.6" y="183.1">20%</text>
<text class="dl" x="423.6" y="179.2">1,492</text>
<text class="dl" x="422.6" y="195.0">33%</text>
<text class="dl" x="372.2" y="101.0">50</text>
<text class="dl" x="373" y="116.9">2%</text>
<text class="dl" x="397.3" y="55.1">2,309</text>
<text class="dl" x="396.6" y="71.4">28%</text>
<text class="dl" x="517.6" y="55.0">5,955</text>
<text class="dl" x="516.4" y="71.4">23%</text>
<text class="dl" x="486.3" y="106.2">-1,415</text>
<text class="dl" x="485.4" y="122.0">-16%</text>
<text class="dl" x="466.6" y="139.9">466</text>
<text class="dl" x="467.3" y="156.1">21%</text>
<text class="dl" x="458.6" y="258.2">-1,413</text>
<text class="dl" x="457.7" y="274.3">-4%</text>
<rect x="12" y="339" width="176" height="15" fill="#fff" fill-opacity="0.85"/>
<text x="15" y="351" style="fill:#444;font-size:11px">© 2025 Mapbox © OpenStreetMap</text>
</g>
<rect x="9.5" y="4.5" width="775" height="352" fill="none" stroke="#e6e6e6" stroke-width="1"/>
<text x="607.5" y="216" style="fill:#333;font-size:12px;stroke:#333;stroke-width:0.3px" textLength="104" lengthAdjust="spacingAndGlyphs">Year of Order Date</text>
<rect x="610.5" y="224.5" width="127" height="19" fill="#fff" stroke="#777" stroke-width="1"/>
<text class="ax" x="614.2" y="238.2">2022</text>
<rect x="613" y="252.5" width="84" height="4" rx="1" fill="#e6e6e6"/>
<rect x="616.7" y="258.5" width="1" height="2.5" fill="#c8c8c8"/>
<rect x="635.9" y="258.5" width="1" height="2.5" fill="#c8c8c8"/>
<rect x="655.0" y="258.5" width="1" height="2.5" fill="#c8c8c8"/>
<rect x="673.2" y="258.5" width="1" height="2.5" fill="#c8c8c8"/>
<rect x="691.8" y="258.5" width="1" height="2.5" fill="#c8c8c8"/>
<circle cx="636.4" cy="255" r="4.2" fill="#fff" stroke="#555" stroke-width="1.1"/>
<rect x="702.5" y="248.5" width="15" height="15" rx="2" fill="#fff" stroke="#c4c4c4"/>
<rect x="721.5" y="248.5" width="15" height="15" rx="2" fill="#fff" stroke="#c4c4c4"/>
<path d="M712.2,251.7 L708,256 L712.2,260.3" fill="none" stroke="#3d4f66" stroke-width="1.9"/>
<path d="M726.8,251.7 L731,256 L726.8,260.3" fill="none" stroke="#3d4f66" stroke-width="1.9"/>
<line x1="63" x2="784" y1="594.5" y2="594.5" stroke="#efefef" stroke-width="1"/>
<line x1="63" x2="784" y1="550.5" y2="550.5" stroke="#efefef" stroke-width="1"/>
<line x1="63" x2="784" y1="507.5" y2="507.5" stroke="#efefef" stroke-width="1"/>
<line x1="63" x2="784" y1="463.5" y2="463.5" stroke="#efefef" stroke-width="1"/>
<line x1="63" x2="784" y1="420.5" y2="420.5" stroke="#efefef" stroke-width="1"/>
<line x1="9" x2="785" y1="385.5" y2="385.5" stroke="#cbcbcb" stroke-width="1"/>
<line x1="9" x2="785" y1="637.5" y2="637.5" stroke="#cbcbcb" stroke-width="1"/>
<line x1="68.5" x2="68.5" y1="365" y2="717" stroke="#cbcbcb" stroke-width="1"/>
<line x1="247.5" x2="247.5" y1="365" y2="717" stroke="#cbcbcb" stroke-width="1"/>
<line x1="426.5" x2="426.5" y1="365" y2="717" stroke="#cbcbcb" stroke-width="1"/>
<line x1="605.5" x2="605.5" y1="365" y2="717" stroke="#cbcbcb" stroke-width="1"/>
<line x1="784.5" x2="784.5" y1="365" y2="717" stroke="#cbcbcb" stroke-width="1"/>
<line x1="110.5" x2="110.5" y1="386" y2="717" stroke="#cbcbcb" stroke-width="1"/>
<line x1="205.5" x2="205.5" y1="386" y2="717" stroke="#cbcbcb" stroke-width="1"/>
<line x1="289.5" x2="289.5" y1="386" y2="717" stroke="#cbcbcb" stroke-width="1"/>
<line x1="384.5" x2="384.5" y1="386" y2="717" stroke="#cbcbcb" stroke-width="1"/>
<line x1="468.5" x2="468.5" y1="386" y2="717" stroke="#cbcbcb" stroke-width="1"/>
<line x1="563.5" x2="563.5" y1="386" y2="717" stroke="#cbcbcb" stroke-width="1"/>
<line x1="647.5" x2="647.5" y1="386" y2="717" stroke="#cbcbcb" stroke-width="1"/>
<line x1="742.5" x2="742.5" y1="386" y2="717" stroke="#cbcbcb" stroke-width="1"/>
<line x1="79.5" x2="79.5" y1="638" y2="641" stroke="#e9e9e9" stroke-width="1"/>
<line x1="89.5" x2="89.5" y1="638" y2="641" stroke="#e9e9e9" stroke-width="1"/>
<line x1="100.5" x2="100.5" y1="638" y2="641" stroke="#e9e9e9" stroke-width="1"/>
<line x1="121.5" x2="121.5" y1="638" y2="641" stroke="#e9e9e9" stroke-width="1"/>
<line x1="131.5" x2="131.5" y1="638" y2="641" stroke="#e9e9e9" stroke-width="1"/>
<line x1="142.5" x2="142.5" y1="638" y2="641" stroke="#e9e9e9" stroke-width="1"/>
<line x1="152.5" x2="152.5" y1="638" y2="641" stroke="#e9e9e9" stroke-width="1"/>
<line x1="163.5" x2="163.5" y1="638" y2="641" stroke="#e9e9e9" stroke-width="1"/>
<line x1="173.5" x2="173.5" y1="638" y2="641" stroke="#e9e9e9" stroke-width="1"/>
<line x1="184.5" x2="184.5" y1="638" y2="641" stroke="#e9e9e9" stroke-width="1"/>
<line x1="194.5" x2="194.5" y1="638" y2="641" stroke="#e9e9e9" stroke-width="1"/>
<line x1="215.5" x2="215.5" y1="638" y2="641" stroke="#e9e9e9" stroke-width="1"/>
<line x1="226.5" x2="226.5" y1="638" y2="641" stroke="#e9e9e9" stroke-width="1"/>
<line x1="236.5" x2="236.5" y1="638" y2="641" stroke="#e9e9e9" stroke-width="1"/>
<line x1="258.5" x2="258.5" y1="638" y2="641" stroke="#e9e9e9" stroke-width="1"/>
<line x1="268.5" x2="268.5" y1="638" y2="641" stroke="#e9e9e9" stroke-width="1"/>
<line x1="279.5" x2="279.5" y1="638" y2="641" stroke="#e9e9e9" stroke-width="1"/>
<line x1="300.5" x2="300.5" y1="638" y2="641" stroke="#e9e9e9" stroke-width="1"/>
<line x1="310.5" x2="310.5" y1="638" y2="641" stroke="#e9e9e9" stroke-width="1"/>
<line x1="321.5" x2="321.5" y1="638" y2="641" stroke="#e9e9e9" stroke-width="1"/>
<line x1="331.5" x2="331.5" y1="638" y2="641" stroke="#e9e9e9" stroke-width="1"/>
<line x1="342.5" x2="342.5" y1="638" y2="641" stroke="#e9e9e9" stroke-width="1"/>
<line x1="352.5" x2="352.5" y1="638" y2="641" stroke="#e9e9e9" stroke-width="1"/>
<line x1="363.5" x2="363.5" y1="638" y2="641" stroke="#e9e9e9" stroke-width="1"/>
<line x1="373.5" x2="373.5" y1="638" y2="641" stroke="#e9e9e9" stroke-width="1"/>
<line x1="394.5" x2="394.5" y1="638" y2="641" stroke="#e9e9e9" stroke-width="1"/>
<line x1="405.5" x2="405.5" y1="638" y2="641" stroke="#e9e9e9" stroke-width="1"/>
<line x1="415.5" x2="415.5" y1="638" y2="641" stroke="#e9e9e9" stroke-width="1"/>
<line x1="437.5" x2="437.5" y1="638" y2="641" stroke="#e9e9e9" stroke-width="1"/>
<line x1="447.5" x2="447.5" y1="638" y2="641" stroke="#e9e9e9" stroke-width="1"/>
<line x1="458.5" x2="458.5" y1="638" y2="641" stroke="#e9e9e9" stroke-width="1"/>
<line x1="479.5" x2="479.5" y1="638" y2="641" stroke="#e9e9e9" stroke-width="1"/>
<line x1="489.5" x2="489.5" y1="638" y2="641" stroke="#e9e9e9" stroke-width="1"/>
<line x1="500.5" x2="500.5" y1="638" y2="641" stroke="#e9e9e9" stroke-width="1"/>
<line x1="510.5" x2="510.5" y1="638" y2="641" stroke="#e9e9e9" stroke-width="1"/>
<line x1="521.5" x2="521.5" y1="638" y2="641" stroke="#e9e9e9" stroke-width="1"/>
<line x1="531.5" x2="531.5" y1="638" y2="641" stroke="#e9e9e9" stroke-width="1"/>
<line x1="542.5" x2="542.5" y1="638" y2="641" stroke="#e9e9e9" stroke-width="1"/>
<line x1="552.5" x2="552.5" y1="638" y2="641" stroke="#e9e9e9" stroke-width="1"/>
<line x1="573.5" x2="573.5" y1="638" y2="641" stroke="#e9e9e9" stroke-width="1"/>
<line x1="584.5" x2="584.5" y1="638" y2="641" stroke="#e9e9e9" stroke-width="1"/>
<line x1="594.5" x2="594.5" y1="638" y2="641" stroke="#e9e9e9" stroke-width="1"/>
<line x1="616.5" x2="616.5" y1="638" y2="641" stroke="#e9e9e9" stroke-width="1"/>
<line x1="626.5" x2="626.5" y1="638" y2="641" stroke="#e9e9e9" stroke-width="1"/>
<line x1="637.5" x2="637.5" y1="638" y2="641" stroke="#e9e9e9" stroke-width="1"/>
<line x1="658.5" x2="658.5" y1="638" y2="641" stroke="#e9e9e9" stroke-width="1"/>
<line x1="668.5" x2="668.5" y1="638" y2="641" stroke="#e9e9e9" stroke-width="1"/>
<line x1="679.5" x2="679.5" y1="638" y2="641" stroke="#e9e9e9" stroke-width="1"/>
<line x1="689.5" x2="689.5" y1="638" y2="641" stroke="#e9e9e9" stroke-width="1"/>
<line x1="700.5" x2="700.5" y1="638" y2="641" stroke="#e9e9e9" stroke-width="1"/>
<line x1="710.5" x2="710.5" y1="638" y2="641" stroke="#e9e9e9" stroke-width="1"/>
<line x1="721.5" x2="721.5" y1="638" y2="641" stroke="#e9e9e9" stroke-width="1"/>
<line x1="731.5" x2="731.5" y1="638" y2="641" stroke="#e9e9e9" stroke-width="1"/>
<line x1="752.5" x2="752.5" y1="638" y2="641" stroke="#e9e9e9" stroke-width="1"/>
<line x1="763.5" x2="763.5" y1="638" y2="641" stroke="#e9e9e9" stroke-width="1"/>
<line x1="773.5" x2="773.5" y1="638" y2="641" stroke="#e9e9e9" stroke-width="1"/>
<rect x="69" y="630.2" width="8" height="7.0" fill="#c9d2d0"/>
<rect x="80" y="522.9" width="8" height="114.3" fill="#5b8fc0"/>
<rect x="90" y="610.1" width="8" height="27.1" fill="#9bc7e4"/>
<rect x="101" y="551.0" width="8" height="86.2" fill="#7fb3d9"/>
<rect x="111" y="619.0" width="8" height="18.2" fill="#9bc9e6"/>
<rect x="122" y="632.2" width="8" height="5.0" fill="#c9d2d0"/>
<rect x="132" y="565.1" width="8" height="72.1" fill="#5a8ec0"/>
<rect x="143" y="635.0" width="8" height="2.2" fill="#cbd3d0"/>
<rect x="153" y="636.2" width="8" height="1.0" fill="#d0d4cf"/>
<rect x="164" y="634.1" width="8" height="3.1" fill="#c9d2d0"/>
<rect x="175" y="608.9" width="8" height="28.3" fill="#7aaed6"/>
<rect x="185" y="579.0" width="8" height="58.2" fill="#9ccae6"/>
<rect x="196" y="600.1" width="8" height="37.1" fill="#c8d1cf"/>
<rect x="206" y="588.1" width="8" height="49.1" fill="#6fa3cf"/>
<rect x="217" y="633.1" width="8" height="4.1" fill="#c9d2d0"/>
<rect x="227" y="397.0" width="8" height="240.2" fill="#c75120"/>
<rect x="238" y="487.2" width="8" height="150.0" fill="#2f6090"/>
<text class="ax" x="158.0" y="380" text-anchor="middle" textLength="28" lengthAdjust="spacingAndGlyphs">2022</text>
<text class="ax" x="88.2" y="642" text-anchor="end" transform="rotate(-90 88.2 642)">Chairs</text>
<text class="ax" x="106.3" y="642" text-anchor="end" transform="rotate(-90 106.3 642)">Tables</text>
<text class="ax" x="130.3" y="642" text-anchor="end" transform="rotate(-90 130.3 642)">Art</text>
<text class="ax" x="151.4" y="642" text-anchor="end" transform="rotate(-90 151.4 642)">Envelopes</text>
<text class="ax" x="172.4" y="642" text-anchor="end" transform="rotate(-90 172.4 642)">Labels</text>
<text class="ax" x="193.5" y="642" text-anchor="end" transform="rotate(-90 193.5 642)">Storage</text>
<text class="ax" x="225.1" y="642" text-anchor="end" transform="rotate(-90 225.1 642)">Copiers</text>
<text class="ax" x="243.1" y="642" text-anchor="end" transform="rotate(-90 243.1 642)">Phones</text>
<rect x="248" y="626.2" width="8" height="11.0" fill="#c9d2d0"/>
<rect x="259" y="549.0" width="8" height="88.2" fill="#7fb3d9"/>
<rect x="269" y="590.2" width="8" height="47.0" fill="#7fb3d9"/>
<rect x="280" y="573.0" width="8" height="64.2" fill="#e8681f"/>
<rect x="290" y="604.1" width="8" height="33.1" fill="#86b8dc"/>
<rect x="301" y="625.2" width="8" height="12.0" fill="#a9cde0"/>
<rect x="311" y="519.8" width="8" height="117.4" fill="#9ac8e4"/>
<rect x="322" y="625.2" width="8" height="12.0" fill="#92c2e1"/>
<rect x="332" y="636.2" width="8" height="1.0" fill="#d3d5cd"/>
<rect x="343" y="627.1" width="8" height="10.1" fill="#93c3e2"/>
<rect x="354" y="617.3" width="8" height="19.9" fill="#82b6da"/>
<rect x="364" y="572.0" width="8" height="65.2" fill="#f4c689"/>
<rect x="375" y="636.2" width="8" height="1.0" fill="#d9d5c9"/>
<rect x="385" y="601.0" width="8" height="36.2" fill="#8cbde0"/>
<rect x="396" y="629.3" width="8" height="7.9" fill="#a5cde2"/>
<rect x="406" y="610.1" width="8" height="27.1" fill="#76aad4"/>
<rect x="417" y="569.1" width="8" height="68.1" fill="#6397c7"/>
<text class="ax" x="337.0" y="380" text-anchor="middle" textLength="28" lengthAdjust="spacingAndGlyphs">2023</text>
<text class="ax" x="267.2" y="642" text-anchor="end" transform="rotate(-90 267.2 642)">Chairs</text>
<text class="ax" x="285.3" y="642" text-anchor="end" transform="rotate(-90 285.3 642)">Tables</text>
<text class="ax" x="309.3" y="642" text-anchor="end" transform="rotate(-90 309.3 642)">Art</text>
<text class="ax" x="330.4" y="642" text-anchor="end" transform="rotate(-90 330.4 642)">Envelopes</text>
<text class="ax" x="351.4" y="642" text-anchor="end" transform="rotate(-90 351.4 642)">Labels</text>
<text class="ax" x="372.5" y="642" text-anchor="end" transform="rotate(-90 372.5 642)">Storage</text>
<text class="ax" x="404.1" y="642" text-anchor="end" transform="rotate(-90 404.1 642)">Copiers</text>
<text class="ax" x="422.1" y="642" text-anchor="end" transform="rotate(-90 422.1 642)">Phones</text>
<rect x="427" y="605.1" width="8" height="32.1" fill="#9bc9e3"/>
<rect x="438" y="582.1" width="8" height="55.1" fill="#7bb0d7"/>
<rect x="448" y="590.2" width="8" height="47.0" fill="#7aaed6"/>
<rect x="459" y="527.9" width="8" height="109.3" fill="#d3d4cb"/>
<rect x="469" y="588.1" width="8" height="49.1" fill="#79aed6"/>
<rect x="480" y="624.3" width="8" height="12.9" fill="#a5cde0"/>
<rect x="490" y="601.0" width="8" height="36.2" fill="#90c1e2"/>
<rect x="501" y="629.3" width="8" height="7.9" fill="#98c8e4"/>
<rect x="511" y="636.2" width="8" height="1.0" fill="#d3d5cd"/>
<rect x="522" y="634.1" width="8" height="3.1" fill="#c3d2d2"/>
<rect x="533" y="603.2" width="8" height="34.0" fill="#6a9fcc"/>
<rect x="543" y="543.0" width="8" height="94.2" fill="#7fb4da"/>
<rect x="554" y="624.3" width="8" height="12.9" fill="#ecc896"/>
<rect x="564" y="555.0" width="8" height="82.2" fill="#5588bb"/>
<rect x="575" y="615.2" width="8" height="22.0" fill="#8cbee0"/>
<rect x="585" y="521.9" width="8" height="115.3" fill="#2b5c8c"/>
<rect x="596" y="533.9" width="8" height="103.3" fill="#72a7d2"/>
<text class="ax" x="516.0" y="380" text-anchor="middle" textLength="28" lengthAdjust="spacingAndGlyphs">2024</text>
<text class="ax" x="446.2" y="642" text-anchor="end" transform="rotate(-90 446.2 642)">Chairs</text>
<text class="ax" x="464.3" y="642" text-anchor="end" transform="rotate(-90 464.3 642)">Tables</text>
<text class="ax" x="488.3" y="642" text-anchor="end" transform="rotate(-90 488.3 642)">Art</text>
<text class="ax" x="509.4" y="642" text-anchor="end" transform="rotate(-90 509.4 642)">Envelopes</text>
<text class="ax" x="530.4" y="642" text-anchor="end" transform="rotate(-90 530.4 642)">Labels</text>
<text class="ax" x="551.5" y="642" text-anchor="end" transform="rotate(-90 551.5 642)">Storage</text>
<text class="ax" x="583.1" y="642" text-anchor="end" transform="rotate(-90 583.1 642)">Copiers</text>
<text class="ax" x="601.1" y="642" text-anchor="end" transform="rotate(-90 601.1 642)">Phones</text>
<rect x="606" y="592.2" width="8" height="45.0" fill="#9bc9e3"/>
<rect x="617" y="501.0" width="8" height="136.2" fill="#6298c8"/>
<rect x="627" y="608.2" width="8" height="29.0" fill="#93c3e2"/>
<rect x="638" y="513.9" width="8" height="123.3" fill="#b84a22"/>
<rect x="648" y="568.2" width="8" height="69.0" fill="#70a5d1"/>
<rect x="659" y="626.2" width="8" height="11.0" fill="#aecfdc"/>
<rect x="669" y="539.9" width="8" height="97.3" fill="#9ac8e4"/>
<rect x="680" y="630.2" width="8" height="7.0" fill="#a6cde1"/>
<rect x="690" y="636.2" width="8" height="1.0" fill="#d3d5cd"/>
<rect x="701" y="632.2" width="8" height="5.0" fill="#b5d1d9"/>
<rect x="712" y="596.2" width="8" height="41.0" fill="#6c9fcc"/>
<rect x="722" y="544.0" width="8" height="93.2" fill="#84b8dc"/>
<rect x="733" y="615.2" width="8" height="22.0" fill="#cdd3ce"/>
<rect x="743" y="566.0" width="8" height="71.2" fill="#6599c8"/>
<rect x="754" y="590.2" width="8" height="47.0" fill="#5a8dbf"/>
<rect x="764" y="550.9" width="8" height="86.3" fill="#ac4221"/>
<rect x="775" y="451.1" width="8" height="186.1" fill="#4577a8"/>
<text class="ax" x="695.0" y="380" text-anchor="middle" textLength="28" lengthAdjust="spacingAndGlyphs">2025</text>
<text class="ax" x="625.2" y="642" text-anchor="end" transform="rotate(-90 625.2 642)">Chairs</text>
<text class="ax" x="643.3" y="642" text-anchor="end" transform="rotate(-90 643.3 642)">Tables</text>
<text class="ax" x="667.3" y="642" text-anchor="end" transform="rotate(-90 667.3 642)">Art</text>
<text class="ax" x="688.4" y="642" text-anchor="end" transform="rotate(-90 688.4 642)">Envelopes</text>
<text class="ax" x="709.4" y="642" text-anchor="end" transform="rotate(-90 709.4 642)">Labels</text>
<text class="ax" x="730.5" y="642" text-anchor="end" transform="rotate(-90 730.5 642)">Storage</text>
<text class="ax" x="762.1" y="642" text-anchor="end" transform="rotate(-90 762.1 642)">Copiers</text>
<text class="ax" x="780.1" y="642" text-anchor="end" transform="rotate(-90 780.1 642)">Phones</text>
<text class="ax" x="61.2" y="632.7" text-anchor="end">0K</text>
<text class="ax" x="61.2" y="599.0" text-anchor="end">5K</text>
<text class="ax" x="61.2" y="555.0" text-anchor="end">10K</text>
<text class="ax" x="61.2" y="512.0" text-anchor="end">15K</text>
<text class="ax" x="61.2" y="468.0" text-anchor="end">20K</text>
<text class="ax" x="61.2" y="425.0" text-anchor="end">25K</text>
<text x="29.4" y="509.6" text-anchor="middle" transform="rotate(-90 29.4 509.6)" style="fill:#333;font-size:12px;stroke:#333;stroke-width:0.2px">Sales</text>
<text x="9.5" y="739" style="fill:#333;font-size:12px;stroke:#333;stroke-width:0.3px" textLength="31.5" lengthAdjust="spacingAndGlyphs">Profit</text>
<text class="ax" x="13.5" y="760.8" textLength="35.4" lengthAdjust="spacingAndGlyphs">-3,908</text>
<rect x="53.5" y="748.5" width="690" height="16" fill="url(#lg)" stroke="#b9ae9f" stroke-width="1"/>
<rect x="380.8" y="761.8" width="1.3" height="4.1" fill="#111"/>
<text class="ax" x="748" y="760.8" textLength="31.4" lengthAdjust="spacingAndGlyphs">4,308</text>
</svg>
<div id="frame"></div>
</body></html>
